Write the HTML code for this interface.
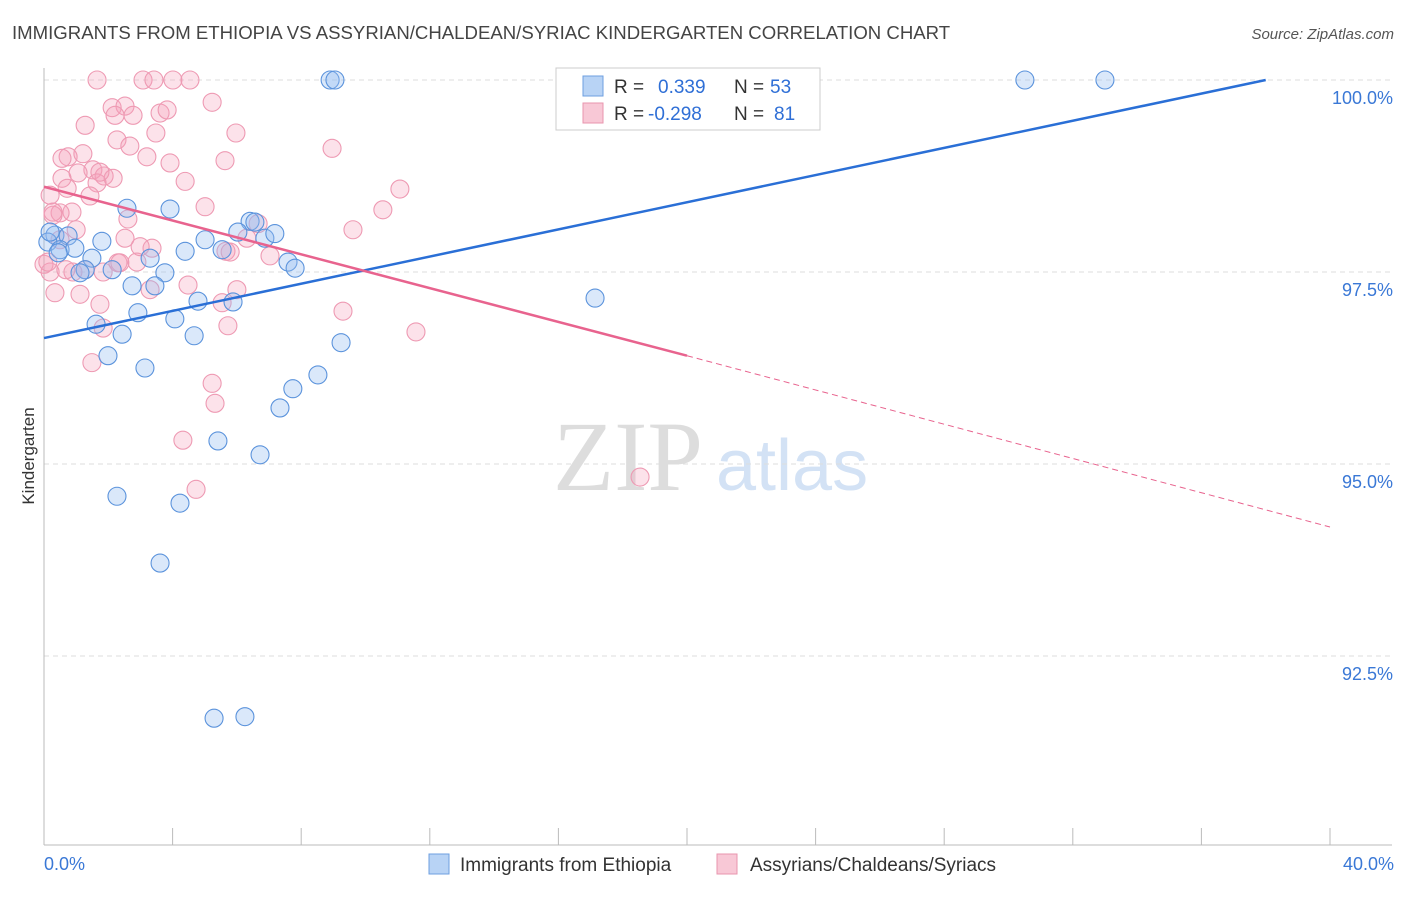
<!DOCTYPE html>
<html><head><meta charset="utf-8"><style>
body{margin:0;background:#fff;font-family:"Liberation Sans",sans-serif;}
svg text{font-family:"Liberation Sans",sans-serif;}
</style></head><body>
<svg id="chart" width="1406" height="892" xmlns="http://www.w3.org/2000/svg">
<text x="12" y="39" font-size="18.6" fill="#444">IMMIGRANTS FROM ETHIOPIA VS ASSYRIAN/CHALDEAN/SYRIAC KINDERGARTEN CORRELATION CHART</text>
<text x="1394" y="39" font-size="15" fill="#555" text-anchor="end" font-style="italic">Source: ZipAtlas.com</text>
<text x="553" y="490" font-size="100" fill="#ddd" font-family="Liberation Serif" style="font-family:'Liberation Serif',serif">ZIP</text>
<text x="716" y="490" font-size="72" fill="#d3e2f5">atlas</text>
<g id="grid"></g><g id="marks"></g>
<text transform="translate(34,456) rotate(-90)" font-size="17" fill="#333" text-anchor="middle">Kindergarten</text>
<g>
<rect x="556" y="68" width="264" height="62" fill="#fff" stroke="#ccc"/>
<rect x="583" y="76" width="20" height="20" fill="#b8d3f5" stroke="#6e9fe0"/>
<rect x="583" y="103" width="20" height="20" fill="#f8c8d6" stroke="#e895ae"/>
<text x="614" y="93" font-size="19" fill="#333">R = </text><text x="658" y="93" font-size="19" fill="#2f6fd6">0.339</text>
<text x="734" y="93" font-size="19" fill="#333">N = </text><text x="770" y="93" font-size="19" fill="#2f6fd6">53</text>
<text x="614" y="120" font-size="19" fill="#333">R = </text><text x="648" y="120" font-size="19" fill="#2f6fd6">-0.298</text>
<text x="734" y="120" font-size="19" fill="#333">N = </text><text x="774" y="120" font-size="19" fill="#2f6fd6">81</text>
</g>
<g>
<rect x="429" y="854" width="20" height="20" fill="#b8d3f5" stroke="#6e9fe0"/>
<text x="460" y="871" font-size="19" fill="#333">Immigrants from Ethiopia</text>
<rect x="717" y="854" width="20" height="20" fill="#f8c8d6" stroke="#e895ae"/>
<text x="750" y="871" font-size="19" fill="#333">Assyrians/Chaldeans/Syriacs</text>
</g>
</svg>
<script>
const blueX=[8.90,9.05,30.51,33.0,2.58,3.92,6.41,6.56,6.03,6.87,7.18,0.34,0.75,1.80,5.01,4.39,5.54,0.12,0.50,0.96,1.49,3.30,7.59,7.81,1.28,2.12,3.76,1.12,2.74,3.45,4.79,5.88,17.14,2.92,4.07,1.62,2.43,4.67,9.24,1.99,3.14,8.52,7.74,7.34,5.41,6.72,2.27,4.23,3.61,5.29,6.25,0.19,0.44];
const blueY=[100,100,100,100,98.33,98.32,98.16,98.15,98.02,97.94,98.0,97.98,97.97,97.90,97.92,97.77,97.79,97.89,97.79,97.81,97.68,97.68,97.63,97.55,97.53,97.53,97.49,97.49,97.32,97.32,97.12,97.11,97.16,96.97,96.89,96.82,96.69,96.67,96.58,96.41,96.25,96.16,95.98,95.73,95.30,95.12,94.58,94.49,93.71,91.69,91.71,98.02,97.75];
const pinkX=[1.65,3.08,3.42,4.01,4.54,5.23,2.12,2.52,2.21,2.77,3.61,3.83,1.28,5.97,3.48,2.27,2.67,8.96,0.75,1.21,3.20,0.56,3.92,5.63,1.52,1.06,1.87,2.15,0.56,1.65,4.39,11.07,0.72,1.43,0.19,5.01,10.54,0.87,0.50,0.28,2.61,6.66,9.61,1.0,2.52,6.31,3.36,5.66,7.03,2.30,2.89,0.0,0.19,0.90,1.84,4.48,3.30,6.0,1.12,0.34,1.74,5.54,9.30,5.72,11.57,1.84,1.49,5.23,5.32,4.32,4.73,18.54,0.28,0.68,1.28,2.99,0.12,2.36,0.50,5.79,1.74];
const pinkY=[100,100,100,100,100,99.71,99.64,99.66,99.54,99.54,99.57,99.61,99.41,99.31,99.31,99.22,99.14,99.11,99.0,99.04,99.0,98.98,98.92,98.95,98.83,98.79,98.75,98.72,98.72,98.66,98.68,98.58,98.59,98.49,98.50,98.35,98.31,98.28,98.27,98.24,98.19,98.13,98.05,98.05,97.94,97.94,97.81,97.77,97.71,97.62,97.63,97.60,97.50,97.50,97.50,97.33,97.27,97.27,97.21,97.23,97.08,97.10,96.99,96.80,96.72,96.77,96.32,96.05,95.79,95.31,94.67,94.83,98.28,97.53,97.53,97.83,97.63,97.62,97.92,97.76,98.80];
const blueTrend=[0,96.64,38,100];
const pinkTrend=[0,98.61,20,96.41,40,94.18];
const yTicks=[100,97.5,95,92.5];
const yTickLabels=["100.0%","97.5%","95.0%","92.5%"];
const xEdgeLabels=["0.0%","40.0%"];
const X0=44,X1=1330,Ytop=80;
const sx=v=>X0+(v/40)*(X1-X0);
const sy=v=>Ytop+(100-v)*76.8;
const NS="http://www.w3.org/2000/svg";
const grid=document.getElementById('grid'),marks=document.getElementById('marks');
function mk(tag,attrs,parent){const e=document.createElementNS(NS,tag);for(const k in attrs)e.setAttribute(k,attrs[k]);parent.appendChild(e);return e;}
yTicks.forEach((t,i)=>{
  const l=mk('line',{x1:44,x2:1392,y1:sy(t),y2:sy(t),stroke:'#ddd','stroke-dasharray':'5,4'},grid);
  
  
  const tx=mk('text',{x:1393,y:sy(t)+24,'font-size':18,fill:'#3a78d6','text-anchor':'end'},grid);
  tx.textContent=yTickLabels[i];
  
  
});
const ax=mk('line',{x1:44,x2:44,y1:68,y2:845,stroke:'#bbb'},grid);


const bx=mk('line',{x1:44,x2:1392,y1:845,y2:845,stroke:'#bbb'},grid);


for(let i=1;i<=10;i++){const t=mk('line',{x1:sx(i*4),x2:sx(i*4),y1:828,y2:845,stroke:'#bbb'},grid);
  
  }
[[0,'start',44],[40,'end',1394]].forEach((d,i)=>{const t=mk('text',{x:d[2],y:870,'font-size':18,fill:'#3a78d6','text-anchor':d[1]},grid);t.textContent=xEdgeLabels[i];
  
  });
pinkX.forEach((x,i)=>{const c=mk('circle',{cx:sx(x),cy:sy(pinkY[i]),r:9,fill:'rgba(244,160,186,0.3)',stroke:'#ee9ab3','stroke-width':1.1},marks);
  
  });
blueX.forEach((x,i)=>{const c=mk('circle',{cx:sx(x),cy:sy(blueY[i]),r:9,fill:'rgba(150,190,240,0.35)',stroke:'#5b93dc','stroke-width':1.1},marks);
  
  });
const bl=mk('line',{x1:sx(blueTrend[0]),y1:sy(blueTrend[1]),x2:sx(blueTrend[2]),y2:sy(blueTrend[3]),stroke:'#2a6fd6','stroke-width':2.5},marks);


const pl=mk('line',{x1:sx(pinkTrend[0]),y1:sy(pinkTrend[1]),x2:sx(pinkTrend[2]),y2:sy(pinkTrend[3]),stroke:'#e8638e','stroke-width':2.5},marks);


const pd=mk('line',{x1:sx(pinkTrend[2]),y1:sy(pinkTrend[3]),x2:sx(pinkTrend[4]),y2:sy(pinkTrend[5]),stroke:'#e8638e','stroke-width':1,'stroke-dasharray':'6,4'},marks);


</script>
</body></html>
